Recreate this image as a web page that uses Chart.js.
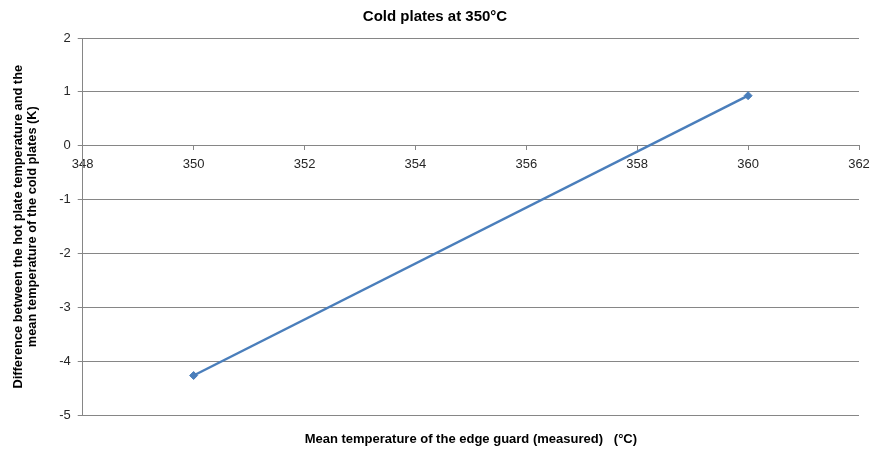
<!DOCTYPE html>
<html>
<head>
<meta charset="utf-8">
<script src="https://cdn.jsdelivr.net/npm/chart.js@4/dist/chart.umd.min.js"></script>
<style>
html,body{margin:0;padding:0;background:#fff;}
#wrap{width:871px;height:449px;}
</style>
</head>
<body>
<div id="wrap"><canvas id="c" width="871" height="449"></canvas></div>
<script>
const chartTitle = "Cold plates at 350°C";
const xTitle = "Mean temperature of the edge guard (measured)   (°C)";
const yTitle = ["Difference between the hot plate temperature and the", "mean temperature of the cold plates (K)"];
const xValues = [350, 360];
const yValues = [-4.26, 0.93];
const xRange = [348, 362];
const yRange = [-5, 2];

const FONT = "'Liberation Sans', Arial, sans-serif";
const GRID = "#868686";
const noSidePad = (s) => { s.paddingLeft = 0; s.paddingRight = 0; };

new Chart(document.getElementById('c'), {
  type: 'line',
  data: {
    datasets: [{
      data: xValues.map((x, i) => ({x: x, y: yValues[i]})),
      borderColor: '#4A7EBB',
      backgroundColor: '#4A7EBB',
      borderWidth: 2.5,
      pointStyle: 'rectRot',
      pointRadius: 4,
      pointBorderWidth: 1,
      tension: 0,
      fill: false
    }]
  },
  options: {
    responsive: false,
    animation: false,
    devicePixelRatio: 1,
    layout: {padding: {left: 11, right: 12, top: 4, bottom: 2}},
    plugins: {
      legend: {display: false},
      tooltip: {enabled: false},
      title: {
        display: true,
        text: chartTitle,
        color: '#000',
        font: {family: FONT, size: 15, weight: 'bold'},
        padding: {top: 4, bottom: 12}
      }
    },
    scales: {
      x: {
        type: 'linear',
        min: xRange[0], max: xRange[1],
        position: {y: 0},
        afterFit: noSidePad,
        ticks: {stepSize: 2, color: '#262626', font: {family: FONT, size: 13}, padding: 7},
        grid: {drawOnChartArea: false, drawTicks: true, tickLength: 4, color: GRID},
        border: {color: GRID, width: 1}
      },
      x2: {
        type: 'linear',
        min: xRange[0], max: xRange[1],
        position: 'bottom',
        afterFit: noSidePad,
        ticks: {display: false},
        grid: {display: false},
        border: {display: false},
        title: {display: true, text: xTitle, color: '#000', font: {family: FONT, size: 13, weight: 'bold'}, padding: {top: 8, bottom: 0}}
      },
      y: {
        type: 'linear',
        min: yRange[0], max: yRange[1],
        ticks: {stepSize: 1, color: '#262626', font: {family: FONT, size: 13}, padding: 7},
        grid: {color: GRID, tickLength: 5, drawTicks: true},
        border: {color: GRID, width: 1},
        title: {display: true, text: yTitle, color: '#000', font: {family: FONT, size: 12.8, weight: 'bold', lineHeight: 1.1}, padding: {top: 0, bottom: 13}}
      }
    }
  }
});
</script>
</body>
</html>
